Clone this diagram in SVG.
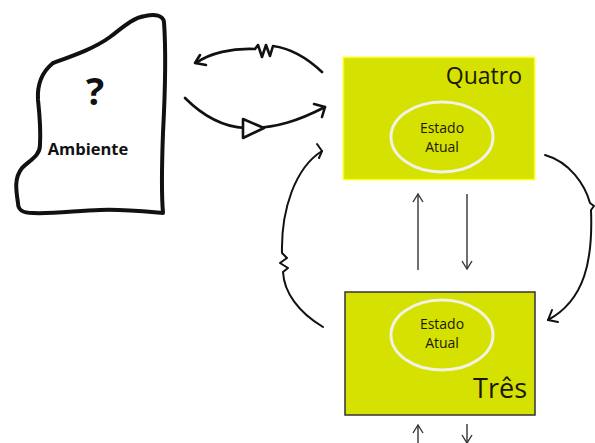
<svg xmlns="http://www.w3.org/2000/svg" width="595" height="443" viewBox="0 0 595 443">
  <style>
    .ink { fill: none; stroke: #111; stroke-linecap: round; stroke-linejoin: round; }
    .thick { stroke-width: 2.6; }
    .thin { stroke-width: 2; }
    .box { fill: #d5e100; stroke-width: 1.5; }
    .state { fill: none; stroke: #f2f2e6; stroke-width: 3; }
    .lbl { font-family: "Open Sans", "Liberation Sans", sans-serif; fill: #1a1a00; }
    .dark { fill: #111; font-weight: bold; text-anchor: middle; }
    .small { font-size: 14px; text-anchor: middle; }
    .flow { fill: none; stroke: #333; stroke-width: 1.4; }
  </style>
  <rect width="595" height="443" fill="#ffffff"/>

  <!-- environment blob -->
  <g id="ambiente">
    <path d="M53,63 C75,55 95,48 110,37 C122,28 132,18 145,16 C155,14 163,15 164,22 C166,50 165,95 163,133 C162,160 161,190 163,213 C140,211 120,209 100,210 C75,211 50,214 33,213 C22,213 18,210 18,203 C16,190 14,178 22,168 C30,160 40,156 40,145 C41,125 39,110 38,100 C37,85 42,72 53,63 Z" fill="#fff" stroke="#111" stroke-width="4" stroke-linejoin="round"/>
    <text x="95" y="105" class="lbl dark" font-size="38">?</text>
    <text x="88" y="155" class="lbl dark" font-size="16.5">Ambiente</text>
  </g>

  <!-- state Quatro -->
  <g id="quatro">
    <rect x="343.5" y="57.5" width="191" height="122" class="box" stroke="#ffff00"/>
    <text x="522" y="84" class="lbl" font-size="23" text-anchor="end">Quatro</text>
    <ellipse cx="442" cy="137" rx="51" ry="35" class="state"/>
    <text x="442" y="133" class="lbl small">Estado</text>
    <text x="442" y="152" class="lbl small">Atual</text>
  </g>

  <!-- state Três -->
  <g id="tres">
    <rect x="345" y="292" width="190" height="123" class="box" stroke="#333"/>
    <ellipse cx="442" cy="335" rx="51" ry="35" class="state"/>
    <text x="442" y="329" class="lbl small">Estado</text>
    <text x="442" y="348" class="lbl small">Atual</text>
    <text x="527" y="398" class="lbl" font-size="27" text-anchor="end">Três</text>
  </g>

  <!-- connectors -->
  <g id="connectors">
    <!-- top arc with zigzag, towards the environment -->
    <path class="ink thick" d="M322,72 C305,56 288,48 273,46 L270,56 L266,45 L262,57 L258,45 L255,49 C232,48 210,53 196,63"/>
    <polyline class="ink thick" points="200,55 195,63 206,65"/>
    <!-- bottom arc with triangle, towards Quatro -->
    <path class="ink thick" d="M185,98 C205,118 225,127 245,128 C275,129 300,120 325,107"/>
    <polyline class="ink thick" points="314,104 325,107 322,117"/>
    <path d="M243,119 L243,138 L264,128 Z" fill="#fff" stroke="#111" stroke-width="2.6" stroke-linejoin="round"/>
    <!-- left arc from Três up to Quatro -->
    <path class="ink thin" d="M323,327 C298,312 284,292 283,272 L288,268 L280,263 L287,258 L282,253 C281,210 295,168 322,151"/>
    <polyline class="ink thin" points="317,144 322,151 319,158"/>
    <!-- right arc from Quatro down to Três -->
    <path class="ink thin" d="M545,155 C570,162 585,185 590,203 L594,206 L591,210 C593,260 585,300 548,320"/>
    <polyline class="ink thin" points="552,310 548,320 558,322"/>
    <!-- vertical flows between the states -->
    <line x1="418" y1="270" x2="418" y2="194" class="flow"/>
    <polyline points="413,202 418,194 423,202" class="flow"/>
    <line x1="467" y1="194" x2="467" y2="269" class="flow"/>
    <polyline points="462,261 467,269 472,261" class="flow"/>
    <line x1="418" y1="443" x2="418" y2="425" class="flow"/>
    <polyline points="413,433 418,425 423,433" class="flow"/>
    <line x1="467" y1="424" x2="467" y2="443" class="flow"/>
    <polyline points="462,435 467,443 472,435" class="flow"/>
  </g>
</svg>
